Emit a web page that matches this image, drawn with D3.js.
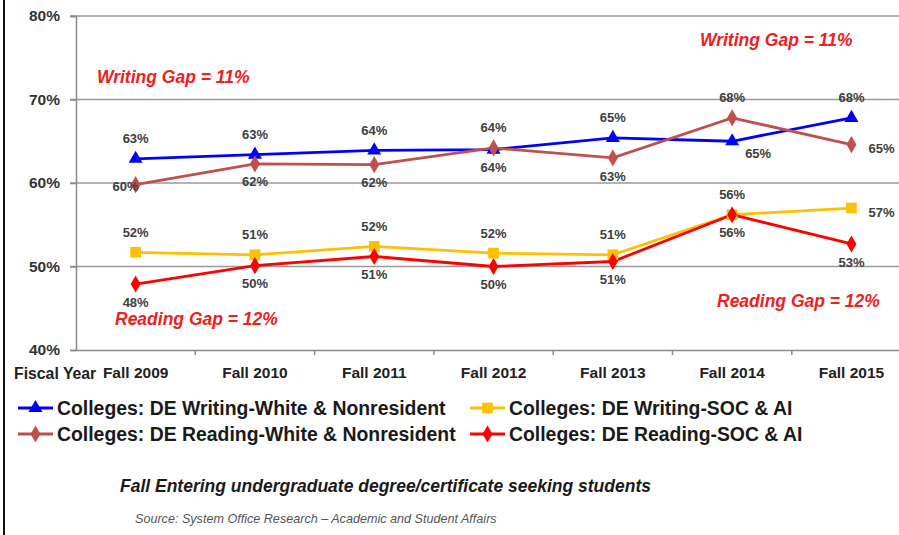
<!DOCTYPE html>
<html>
<head>
<meta charset="utf-8">
<script src="https://cdn.jsdelivr.net/npm/d3@7"></script>
<style>
  html, body { margin: 0; padding: 0; background: #fff; }
  svg { display: block; font-family: Arial, "Liberation Sans", sans-serif; }
</style>
</head>
<body>
<svg id="chart" width="899" height="535"></svg>
<script>
// Fall terms on the x axis
const categories = ["Fall 2009", "Fall 2010", "Fall 2011", "Fall 2012", "Fall 2013", "Fall 2014", "Fall 2015"];

// Percent of students in each group (DE = developmental education)
const writingWhite = [62.9, 63.4, 63.9, 64.0, 65.4, 65.0, 67.8];
const readingWhite = [59.8, 62.3, 62.2, 64.2, 63.0, 67.8, 64.6];
const writingSOC   = [51.7, 51.4, 52.4, 51.6, 51.4, 56.2, 57.0];
const readingSOC   = [47.9, 50.1, 51.2, 50.0, 50.6, 56.2, 52.7];

// Y axis tick values (percent)
const yTicks = [40, 50, 60, 70, 80];

const seriesNames = [
  "Colleges: DE Writing-White & Nonresident",
  "Colleges: DE Writing-SOC & AI",
  "Colleges: DE Reading-White & Nonresident",
  "Colleges: DE Reading-SOC & AI"
];

const gapNotes = ["Writing Gap = 11%", "Reading Gap = 12%"];

// Where each point's value label sits relative to its marker
const labelSide = {
  ww: ["t", "t", "t", "b", "t", "br", "t"],
  rw: ["l", "b", "b", "t", "b", "t", "r"],
  ws: ["t", "t", "t", "t", "t", "t", "r"],
  rs: ["b", "b", "b", "b", "b", "b", "b"]
};

const series = [
  { key: "ww", name: seriesNames[0], values: writingWhite, color: "#0000ff", shape: "triangle" },
  { key: "rw", name: seriesNames[2], values: readingWhite, color: "#c0504d", shape: "diamond" },
  { key: "ws", name: seriesNames[1], values: writingSOC,   color: "#ffc000", shape: "square" },
  { key: "rs", name: seriesNames[3], values: readingSOC,   color: "#ff0000", shape: "diamond" }
];

const svg = d3.select("#chart");
const plot = { left: 76, top: 16, bottom: 350, step: 119.3 };
const FONT = "Arial, 'Liberation Sans', sans-serif";

const x = d3.scaleBand()
  .domain(categories)
  .range([plot.left, plot.left + plot.step * categories.length])
  .paddingInner(0).paddingOuter(0);
const cx = c => x(c) + x.bandwidth() / 2;

const y = d3.scaleLinear().domain([40, 80]).range([plot.bottom, plot.top]);

// left frame edge
svg.append("rect").attr("x", 3).attr("y", 0).attr("width", 2).attr("height", 535).attr("fill", "#111");

// horizontal gridlines
svg.append("g")
  .selectAll("line")
  .data(yTicks.filter(t => t > 40))
  .join("line")
  .attr("x1", plot.left - 6).attr("x2", 899)
  .attr("y1", d => y(d)).attr("y2", d => y(d))
  .attr("stroke", "#9a9a9a").attr("stroke-width", 1.5);

// y axis
const yAxis = svg.append("g")
  .attr("transform", `translate(${plot.left},0)`)
  .call(d3.axisLeft(y).tickValues(yTicks).tickSize(6).tickPadding(10).tickFormat(d => d + "%"));
yAxis.select(".domain").attr("stroke", "#8a8a8a").attr("stroke-width", 1.5);
yAxis.selectAll(".tick line").attr("stroke", "#8a8a8a").attr("stroke-width", 1.5);
yAxis.selectAll(".tick text")
  .attr("font-size", 15.5).attr("font-weight", "bold").attr("fill", "#333")
  .attr("font-family", FONT);

// x axis
const xAxis = svg.append("g")
  .attr("transform", `translate(0,${plot.bottom})`)
  .call(d3.axisBottom(x).tickSize(0).tickPadding(17));
xAxis.select(".domain").attr("stroke", "#8a8a8a").attr("stroke-width", 1.5);
xAxis.selectAll(".tick text")
  .attr("font-size", 15.5).attr("font-weight", "bold").attr("fill", "#222")
  .attr("font-family", FONT);
// boundary tick marks between categories
xAxis.append("g").selectAll("line")
  .data(categories.slice(1))
  .join("line")
  .attr("x1", d => x(d)).attr("x2", d => x(d))
  .attr("y1", 0).attr("y2", 5)
  .attr("stroke", "#8a8a8a").attr("stroke-width", 1.5);

svg.append("text")
  .attr("x", 14).attr("y", plot.bottom + 29)
  .attr("font-size", 15.8).attr("font-weight", "bold").attr("fill", "#222")
  .text("Fiscal Year");

// marker symbols
const symbolFor = {
  triangle: d3.symbol().type(d3.symbolTriangle).size(85),
  square: d3.symbol().type(d3.symbolSquare).size(115),
  diamond: d3.symbol().type(d3.symbolDiamond).size(85)
};

const line = d3.line().x((d, i) => cx(categories[i])).y(d => y(d));

const gLines = svg.append("g");
series.forEach(s => {
  gLines.append("path")
    .datum(s.values)
    .attr("d", line)
    .attr("fill", "none")
    .attr("stroke", s.color)
    .attr("stroke-width", 2.8);
});
series.forEach(s => {
  gLines.append("g").selectAll("path")
    .data(s.values)
    .join("path")
    .attr("transform", (d, i) => `translate(${cx(categories[i])},${y(d)})`)
    .attr("d", symbolFor[s.shape]())
    .attr("fill", s.color);
});

// value labels
const offsets = {
  t:  { dx: 0,  dy: -20, anchor: "middle" },
  b:  { dx: 0,  dy: 18,  anchor: "middle" },
  l:  { dx: 3,  dy: 2,   anchor: "end" },
  r:  { dx: 17, dy: 4,   anchor: "start" },
  br: { dx: 13, dy: 12,  anchor: "start" }
};
const gLabels = svg.append("g");
series.forEach(s => {
  s.values.forEach((v, i) => {
    const o = offsets[labelSide[s.key][i]];
    gLabels.append("text")
      .attr("x", cx(categories[i]) + o.dx)
      .attr("y", y(v) + o.dy)
      .attr("dy", "0.35em")
      .attr("text-anchor", o.anchor)
      .attr("font-size", 13).attr("font-weight", "bold").attr("fill", "#404040")
      .text(Math.round(v) + "%");
  });
});

// gap annotations
const notes = [
  { text: gapNotes[0], x: 97,  y: 77 },
  { text: gapNotes[0], x: 700, y: 40 },
  { text: gapNotes[1], x: 115, y: 319 },
  { text: gapNotes[1], x: 717, y: 301 }
];
svg.append("g").selectAll("text")
  .data(notes)
  .join("text")
  .attr("x", d => d.x).attr("y", d => d.y)
  .attr("dy", "0.35em")
  .attr("font-size", 17.5).attr("font-weight", "bold").attr("font-style", "italic")
  .attr("fill", "#ee2020")
  .text(d => d.text);

// legend, two columns
const legendItems = [
  { s: series[0], x: 18,  y: 408 },
  { s: series[2], x: 470, y: 408 },
  { s: series[1], x: 18,  y: 434 },
  { s: series[3], x: 470, y: 434 }
];
const gLegend = svg.append("g");
legendItems.forEach(it => {
  const g = gLegend.append("g").attr("transform", `translate(${it.x},${it.y})`);
  g.append("line").attr("x1", 0).attr("x2", 35).attr("y1", 0).attr("y2", 0)
    .attr("stroke", it.s.color).attr("stroke-width", 2.8);
  g.append("path").attr("transform", "translate(17.5,0)")
    .attr("d", symbolFor[it.s.shape]()).attr("fill", it.s.color);
  g.append("text").attr("x", 39).attr("y", 0).attr("dy", "0.35em")
    .attr("font-size", 19.4).attr("font-weight", "bold").attr("fill", "#1a1a1a")
    .text(it.s.name);
});

svg.append("text")
  .attr("x", 120).attr("y", 486).attr("dy", "0.35em")
  .attr("font-size", 17.5).attr("font-weight", "bold").attr("font-style", "italic").attr("fill", "#1a1a1a")
  .text("Fall Entering undergraduate degree/certificate seeking students");

svg.append("text")
  .attr("x", 135).attr("y", 519).attr("dy", "0.35em")
  .attr("font-size", 12.6).attr("font-style", "italic").attr("fill", "#555")
  .text("Source: System Office Research \u2013 Academic and Student Affairs");
</script>
</body>
</html>
